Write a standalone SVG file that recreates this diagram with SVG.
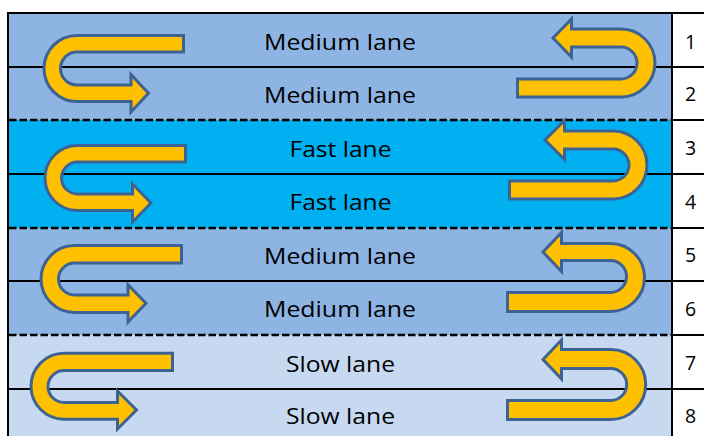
<svg xmlns="http://www.w3.org/2000/svg" width="704" height="436" viewBox="0 0 704 436">
<style>
.medium{fill:#8EB4E3}
.fast{fill:#00B0F0}
.slow{fill:#C6D9F1}
.lbl{font-family:"Open Sans","Liberation Sans",sans-serif;font-size:22px;fill:#000;text-anchor:middle}
.num{font-family:"Open Sans","Liberation Sans",sans-serif;font-size:19.5px;fill:#000;text-anchor:middle}
.ln{stroke:#000;stroke-width:2;fill:none}
.dash{stroke:#000;stroke-width:2.5;stroke-dasharray:7.5 3;fill:none}
.arrow{fill:#FFC000;stroke:#3D6394;stroke-width:3;stroke-linejoin:miter}
</style>
<rect x="0" y="0" width="704" height="436" fill="#fff"/>
<g id="lanes-1-2">
<rect class="medium" x="8" y="13" width="664" height="107"/>
<text class="lbl" x="340" y="49.5" textLength="152" lengthAdjust="spacingAndGlyphs">Medium lane</text>
<text class="lbl" x="340" y="103" textLength="152" lengthAdjust="spacingAndGlyphs">Medium lane</text>
</g>
<g id="lanes-3-4">
<rect class="fast" x="8" y="120" width="664" height="108"/>
<text class="lbl" x="340.5" y="157" textLength="102" lengthAdjust="spacingAndGlyphs">Fast lane</text>
<text class="lbl" x="340.5" y="210" textLength="102" lengthAdjust="spacingAndGlyphs">Fast lane</text>
</g>
<g id="lanes-5-6">
<rect class="medium" x="8" y="228" width="664" height="107"/>
<text class="lbl" x="340" y="263.5" textLength="152" lengthAdjust="spacingAndGlyphs">Medium lane</text>
<text class="lbl" x="340" y="317" textLength="152" lengthAdjust="spacingAndGlyphs">Medium lane</text>
</g>
<g id="lanes-7-8">
<rect class="slow" x="8" y="335" width="664" height="101"/>
<text class="lbl" x="340.5" y="371.5" textLength="109" lengthAdjust="spacingAndGlyphs">Slow lane</text>
<text class="lbl" x="340.5" y="424" textLength="109" lengthAdjust="spacingAndGlyphs">Slow lane</text>
</g>
<g id="numbers">
<text class="num" x="690.5" y="48.5">1</text>
<text class="num" x="690.5" y="101">2</text>
<text class="num" x="690.5" y="155">3</text>
<text class="num" x="690.5" y="208.5">4</text>
<text class="num" x="690.5" y="262">5</text>
<text class="num" x="690.5" y="315.5">6</text>
<text class="num" x="690.5" y="369.5">7</text>
<text class="num" x="690.5" y="423">8</text>
</g>
<g id="grid">
<line class="ln" x1="7" y1="13" x2="704" y2="13"/>
<line class="ln" x1="8" y1="12" x2="8" y2="436"/>
<line class="ln" x1="672" y1="12" x2="672" y2="436"/>
<line class="ln" x1="8" y1="67" x2="704" y2="67"/>
<line class="ln" x1="8" y1="174" x2="704" y2="174"/>
<line class="ln" x1="8" y1="281" x2="704" y2="281"/>
<line class="ln" x1="8" y1="389" x2="704" y2="389"/>
<line class="dash" x1="9" y1="120" x2="672" y2="120"/>
<line class="dash" x1="9" y1="228" x2="672" y2="228"/>
<line class="dash" x1="9" y1="335" x2="672" y2="335"/>
<line class="ln" x1="672" y1="120" x2="704" y2="120"/>
<line class="ln" x1="672" y1="228" x2="704" y2="228"/>
<line class="ln" x1="672" y1="335" x2="704" y2="335"/>
</g>
<g id="arrows">
<g id="uturn-left-1"><path class="arrow" d="M183.5,35.5 L77,35.5 A33,33 0 0 0 77,101.5 L131,101.5 L131,112 L148.5,93.25 L131,74.5 L131,85 L77,85 A16.5,16.5 0 0 1 77,52 L183.5,52 Z"/></g>
<g id="uturn-right-1"><path class="arrow" d="M517.5,97 L621,97 A34,34 0 0 0 621,29 L571.5,29 L571.5,19 L553,38 L571.5,57 L571.5,47 L621,47 A16,16 0 0 1 621,79 L517.5,79 Z"/></g>
<g id="uturn-left-2"><path class="arrow" d="M185.5,145.5 L77.5,145.5 A32.5,32.5 0 0 0 77.5,210.5 L132.5,210.5 L132.5,222 L151,203 L132.5,184 L132.5,194 L77.5,194 A16,16 0 0 1 77.5,162 L185.5,162 Z"/></g>
<g id="uturn-right-2"><path class="arrow" d="M509.5,199 L613,199 A34,34 0 0 0 613,131 L564.5,131 L564.5,120.5 L545,140 L564.5,159.5 L564.5,149 L613,149 A16,16 0 0 1 613,181 L509.5,181 Z"/></g>
<g id="uturn-left-3"><path class="arrow" d="M181.5,245.5 L74.5,245.5 A33.5,33.5 0 0 0 74.5,312.5 L128,312.5 L128,322 L146,303.3 L128,284.6 L128,295 L74.5,295 A16,16 0 0 1 74.5,263 L181.5,263 Z"/></g>
<g id="uturn-right-3"><path class="arrow" d="M507.5,311.5 L610.5,311.5 A34,34 0 0 0 610.5,243.5 L561.5,243.5 L561.5,232.5 L543,252 L561.5,271.5 L561.5,260.5 L610.5,260.5 A16,16 0 0 1 610.5,292.5 L507.5,292.5 Z"/></g>
<g id="uturn-left-4"><path class="arrow" d="M172.5,353.2 L64,353.2 A33,33 0 0 0 64,419.2 L117.5,419.2 L117.5,429 L136.5,410 L117.5,391 L117.5,402.5 L64,402.5 A16,16 0 0 1 64,370.5 L172.5,370.5 Z"/></g>
<g id="uturn-right-4"><path class="arrow" d="M507.5,419.5 L610.7,419.5 A35,35 0 0 0 610.7,349.5 L561.5,349.5 L561.5,340 L543,359.5 L561.5,379 L561.5,368.5 L610.7,368.5 A16,16 0 0 1 610.7,400.5 L507.5,400.5 Z"/></g>
</g>
</svg>
